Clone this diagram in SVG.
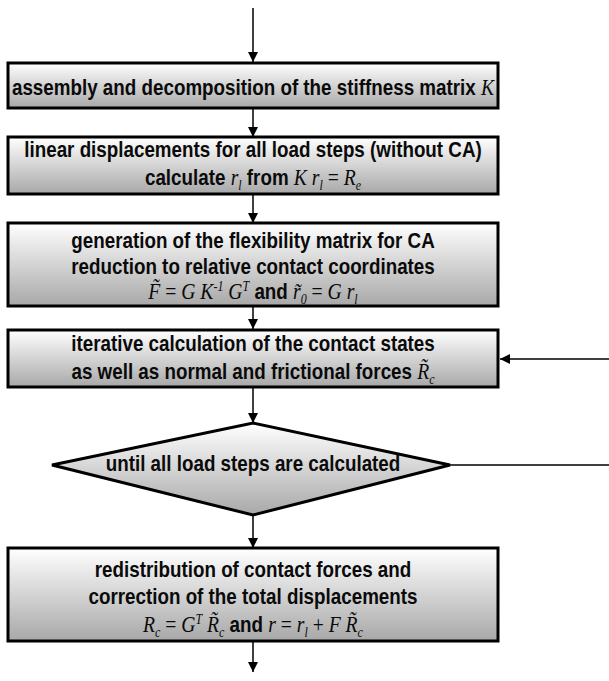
<svg xmlns="http://www.w3.org/2000/svg" width="609" height="681" viewBox="0 0 609 681">
<defs>
<linearGradient id="g" x1="0" y1="0" x2="0" y2="1">
<stop offset="0" stop-color="#ffffff"/>
<stop offset="1" stop-color="#a8a8a8"/>
</linearGradient>
<marker id="ah" markerWidth="10" markerHeight="10" refX="10" refY="5" orient="auto" markerUnits="userSpaceOnUse">
<path d="M0,0 L10,5 L0,10 Z" fill="#000"/>
</marker>
<style>
.box{fill:url(#g);stroke:#000;stroke-width:3}
.t{font-family:"Liberation Sans",Arial,sans-serif;font-weight:bold;font-size:22px;fill:#0a0a0a;text-anchor:middle}
.m{font-family:"Liberation Serif","Times New Roman",serif;font-style:italic;font-weight:normal;font-size:23px}
.n{font-family:"Liberation Serif","Times New Roman",serif;font-style:normal;font-weight:normal;font-size:23px}
.s{font-size:14px}
.c{fill:none;stroke:#000;stroke-width:1.5}
</style>
</defs>
<g id="connectors">
<line class="c" x1="253" y1="8" x2="253" y2="62" marker-end="url(#ah)"/>
<line class="c" x1="253" y1="108" x2="253" y2="137" marker-end="url(#ah)"/>
<line class="c" x1="253" y1="195" x2="253" y2="223" marker-end="url(#ah)"/>
<line class="c" x1="253" y1="306" x2="253" y2="329" marker-end="url(#ah)"/>
<line class="c" x1="253" y1="387" x2="253" y2="423" marker-end="url(#ah)"/>
<line class="c" x1="253" y1="515" x2="253" y2="548" marker-end="url(#ah)"/>
<line class="c" x1="253" y1="641" x2="253" y2="672" marker-end="url(#ah)"/>
<line class="c" x1="450" y1="465" x2="612" y2="465"/>
<line class="c" x1="612" y1="359" x2="500" y2="359" marker-end="url(#ah)"/>
</g>
<g id="n1">
<rect class="box" x="8" y="63" width="490" height="45"/>
<text class="t" transform="translate(253,95) scale(0.855,1)">assembly and decomposition of the stiffness matrix <tspan class="m">K</tspan></text>
</g>
<g id="n2">
<rect class="box" x="8" y="137" width="490" height="57"/>
<text class="t" transform="translate(253,157) scale(0.855,1)">linear displacements for all load steps (without CA)</text>
<text class="t" transform="translate(253,185) scale(0.855,1)">calculate <tspan class="m">r</tspan><tspan class="m s" dy="5">l</tspan><tspan dy="-5"> from </tspan><tspan class="m">K r</tspan><tspan class="m s" dy="5">l</tspan><tspan class="n" dy="-5"> = </tspan><tspan class="m">R</tspan><tspan class="m s" dy="5">e</tspan></text>
</g>
<g id="n3">
<rect class="box" x="8" y="223" width="490" height="83"/>
<text class="t" transform="translate(253,248) scale(0.855,1)">generation of the flexibility matrix for CA</text>
<text class="t" transform="translate(253,274) scale(0.855,1)">reduction to relative contact coordinates</text>
<text class="t" transform="translate(253,299) scale(0.855,1)"><tspan class="m">F̃</tspan><tspan class="n"> = </tspan><tspan class="m">G K</tspan><tspan class="m s" dy="-8">-1</tspan><tspan class="m" dy="8"> G</tspan><tspan class="m s" dy="-8">T</tspan><tspan dy="8"> and  </tspan><tspan class="m">r̃</tspan><tspan class="m s" dy="5">0</tspan><tspan class="n" dy="-5"> = </tspan><tspan class="m">G r</tspan><tspan class="m s" dy="5">l</tspan></text>
</g>
<g id="n4">
<rect class="box" x="8" y="330" width="490" height="57"/>
<text class="t" transform="translate(253,351) scale(0.855,1)">iterative calculation of the contact states</text>
<text class="t" transform="translate(253,379) scale(0.855,1)">as well as normal and frictional forces <tspan class="m">R̃</tspan><tspan class="m s" dy="5">c</tspan></text>
</g>
<g id="n5">
<polygon class="box" points="253,423 450,465 253,515 52,465"/>
<text class="t" transform="translate(253,471) scale(0.855,1)">until all load steps are calculated</text>
</g>
<g id="n6">
<rect class="box" x="8" y="548" width="490" height="93"/>
<text class="t" transform="translate(253,577) scale(0.855,1)">redistribution of contact forces and</text>
<text class="t" transform="translate(253,604) scale(0.855,1)">correction of the total displacements</text>
<text class="t" transform="translate(253,632) scale(0.855,1)"><tspan class="m">R</tspan><tspan class="m s" dy="5">c</tspan><tspan class="n" dy="-5"> = </tspan><tspan class="m">G</tspan><tspan class="m s" dy="-8">T</tspan><tspan class="m" dy="8"> R̃</tspan><tspan class="m s" dy="5">c</tspan><tspan dy="-5"> and </tspan><tspan class="m">r</tspan><tspan class="n"> = </tspan><tspan class="m">r</tspan><tspan class="m s" dy="5">l</tspan><tspan class="n" dy="-5"> + </tspan><tspan class="m">F R̃</tspan><tspan class="m s" dy="5">c</tspan></text>
</g>
</svg>
